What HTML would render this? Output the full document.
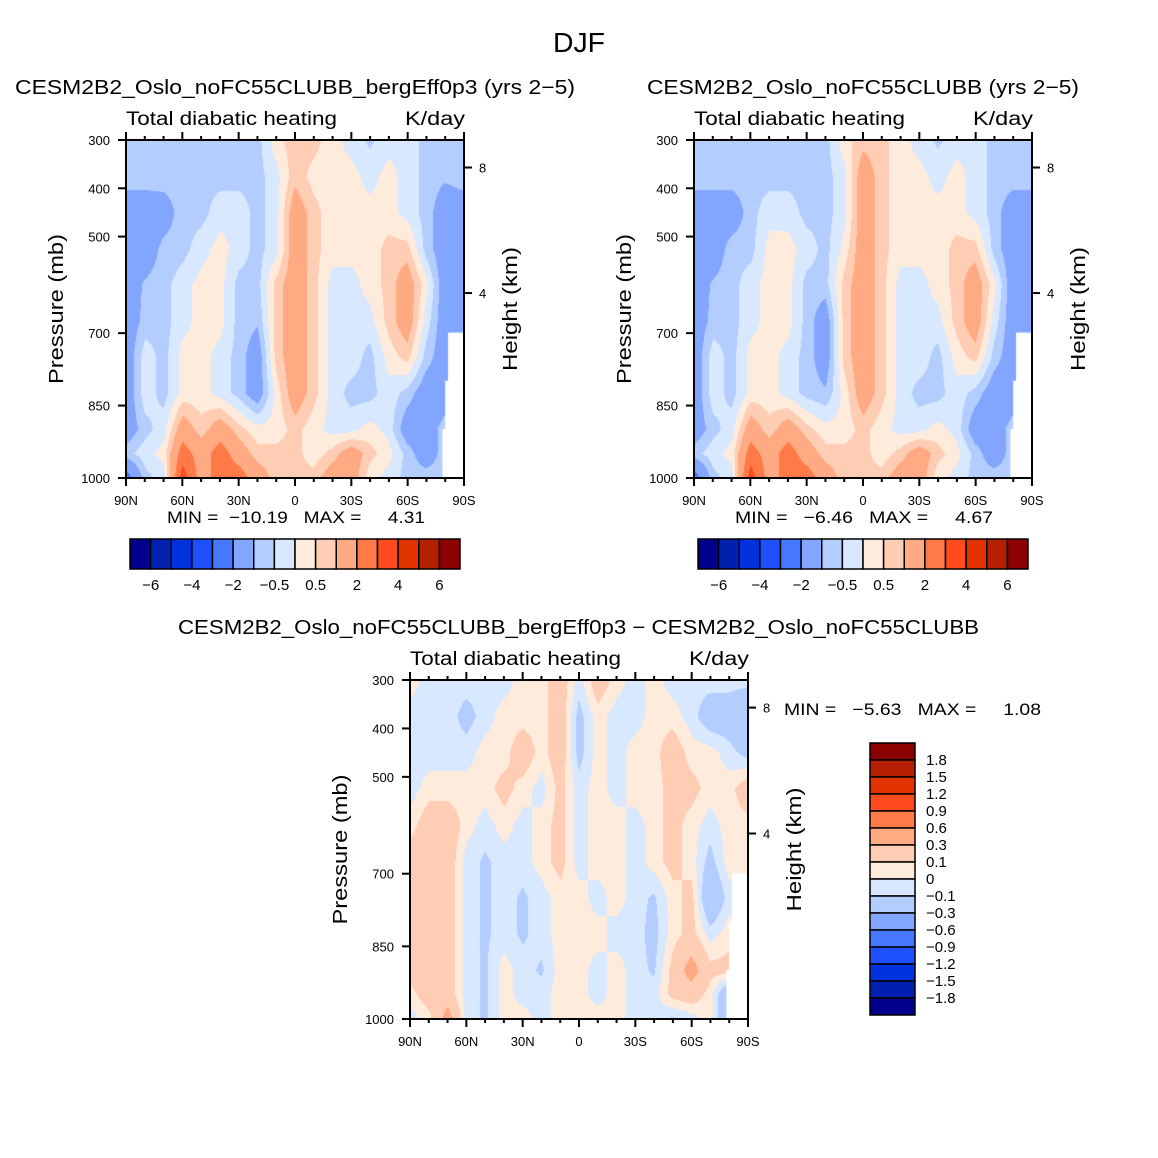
<!DOCTYPE html>
<html><head><meta charset="utf-8">
<style>
html,body{margin:0;padding:0;background:#fff;}
#root{position:relative;width:1158px;height:1158px;overflow:hidden;background:#fff;}
canvas{position:absolute;}
svg{position:absolute;left:0;top:0;}
text{font-family:"Liberation Sans",sans-serif;fill:#000;white-space:pre;}
</style></head>
<body>
<div id="root">
<canvas id="c1" width="338" height="338" style="left:126px;top:140px"></canvas>
<canvas id="c2" width="338" height="338" style="left:694px;top:140px"></canvas>
<canvas id="c3" width="338" height="339" style="left:410px;top:680px"></canvas>
<svg id="ov" width="1158" height="1158"></svg>
</div>
<script>
// ---- data ----
const lats = [90,80,70,60,50,40,30,20,10,0,-10,-20,-30,-40,-50,-60,-70,-80,-90];
const plevs = [300,375,450,525,600,675,750,825,900,950,1000];
const levelsAbs = [-6,-5,-4,-3,-2,-1,-0.5,0,0.5,1,2,3,4,5,6];
const levelsDiff = [-1.8,-1.5,-1.2,-0.9,-0.6,-0.3,-0.1,0,0.1,0.3,0.6,0.9,1.2,1.5,1.8];
const absTickLabels = ["-6","-4","-2","-0.5","0.5","2","4","6"];
const diffTickLabels = ["1.8","1.5","1.2","0.9","0.6","0.3","0.1","0","-0.1","-0.3","-0.6","-0.9","-1.2","-1.5","-1.8"];
const heatBerg = [
[-0.7,-0.7,-0.7,-0.7,-0.7,-0.7,-0.7,-0.7,0.3,0.8,0.7,0.2,-0.2,-0.6,-0.2,-0.2,-0.7,-0.7,-0.7],
[-0.7,-0.7,-0.7,-0.7,-0.7,-0.7,-0.7,-0.7,-0.2,0.8,0.3,0.2,0.2,-0.2,0.2,-0.2,-0.7,-0.9,-0.7],
[-1.5,-1.5,-1.4,-0.7,-0.7,-0.2,-0.2,-0.7,-0.2,1.5,0.7,0.2,0.2,0.2,0.2,-0.2,-0.7,-1.5,-1.5],
[-1.5,-1.5,-0.8,-0.7,-0.2,0.2,-0.2,-0.7,-0.2,1.5,0.7,0.2,0.2,0.2,0.7,0.7,-0.7,-1.5,-1.5],
[-1.5,-0.9,-0.7,-0.2,0.2,0.2,-0.7,-0.7,0.7,1.5,0.7,-0.2,-0.2,0.2,0.7,1.5,0.2,-1.5,-1.5],
[-1.5,-0.8,-0.7,-0.2,0.2,0.2,-0.7,-0.9,0.7,1.5,0.7,-0.2,-0.2,-0.2,0.7,1.5,-0.2,-1.5,-1.5],
[-1.5,-0.2,-0.7,0.2,0.2,-0.2,-0.7,-1.5,0.7,1.5,0.7,-0.2,-0.2,-0.7,0.2,0.7,-0.7,-1.5,-1.5],
[-1.5,-0.2,-0.7,0.2,0.2,-0.2,-0.7,-1.5,0.2,1.5,0.7,-0.2,-0.7,-0.7,-0.2,-0.7,-1.5,-1.5,-1.5],
[-1.5,-0.7,-0.2,1.5,0.7,1.5,0.7,0.2,0.2,0.7,0.2,-0.2,-0.2,0.2,-0.2,-1.5,-1.5,-0.7,-0.7],
[-0.7,-0.2,0.2,2.5,1.5,2.5,1.5,0.7,0.7,0.7,0.2,0.7,1.5,0.7,0.2,-0.7,-1.5,-0.7,-0.7],
[-2.5,-0.7,-0.2,3.5,1.5,2.5,2.5,1.5,0.7,0.7,0.7,1.5,1.5,0.2,-0.2,-0.7,-0.7,-0.7,-0.7]
];
const heatCtrl = [
[-0.7,-0.7,-0.7,-0.7,-0.7,-0.7,-0.7,-0.7,0.3,0.8,0.7,0.2,-0.2,-0.6,-0.2,-0.2,-0.7,-0.7,-0.7],
[-0.7,-0.7,-0.7,-0.7,-0.7,-0.7,-0.7,-0.7,-0.2,1.5,0.7,0.2,0.2,-0.2,0.2,-0.2,-0.7,-0.7,-0.7],
[-1.5,-1.5,-1.5,-0.7,-0.2,-0.2,-0.7,-0.7,-0.2,1.5,0.7,0.2,0.2,0.2,0.2,-0.2,-0.7,-1.5,-1.5],
[-1.5,-1.5,-0.7,-0.7,0.2,0.2,-0.2,-0.7,0.2,1.5,0.7,0.2,0.2,0.2,0.7,0.7,-0.7,-1.5,-1.5],
[-1.5,-0.9,-0.7,-0.2,0.2,0.2,-0.7,-0.7,0.7,1.5,0.7,-0.2,-0.2,0.2,0.7,1.5,0.2,-1.5,-1.5],
[-1.5,-0.8,-0.7,-0.2,0.2,0.2,-0.7,-1.5,0.7,1.5,0.7,-0.2,-0.2,-0.2,0.7,1.5,-0.2,-1.5,-1.5],
[-1.5,-0.2,-0.7,0.2,0.2,-0.2,-0.7,-1.5,0.7,1.5,0.7,-0.2,-0.2,-0.7,0.2,0.7,-0.7,-1.5,-1.5],
[-1.5,-0.2,-0.7,0.2,0.2,-0.2,-0.7,-0.9,0.2,1.5,0.7,-0.2,-0.7,-0.7,-0.2,-0.7,-1.5,-1.5,-1.5],
[-1.5,-0.7,-0.2,1.5,0.7,1.5,0.7,0.2,0.2,0.7,0.2,-0.2,-0.2,0.2,-0.2,-1.5,-1.5,-0.7,-0.7],
[-0.7,-0.2,0.2,2.5,1.5,2.5,1.5,0.7,0.7,0.7,0.2,0.7,1.5,0.7,0.2,-0.7,-1.5,-0.7,-0.7],
[-2.5,-0.7,-0.2,3.5,1.5,2.5,2.5,1.5,0.7,0.7,0.7,1.5,1.5,0.2,-0.2,-0.7,-0.7,-0.7,-0.7]
];
const heatDiff = [
[0.05,-0.05,-0.05,-0.05,-0.05,-0.05,0.05,0.05,0.2,-0.05,0.2,0.05,-0.05,0.05,-0.05,-0.05,-0.05,-0.05,-0.05],
[-0.05,-0.05,-0.05,-0.15,-0.05,0.05,0.05,0.05,0.2,-0.15,0.05,-0.05,-0.05,0.05,0.05,-0.05,-0.2,-0.2,-0.3],
[-0.05,-0.05,-0.05,-0.05,0.05,0.05,0.2,0.05,0.2,-0.15,0.05,-0.05,0.05,0.05,0.2,0.05,0.05,-0.05,-0.15],
[-0.05,0.05,0.05,0.05,0.05,0.15,0.05,-0.05,0.15,-0.05,0.05,-0.05,0.05,0.05,0.15,0.15,0.05,0.05,0.2],
[0.05,0.2,0.2,0.05,-0.05,0.05,-0.05,0.05,0.15,-0.05,0.05,0.05,-0.05,0.05,0.15,0.05,-0.05,0.05,0.05],
[0.2,0.2,0.2,-0.05,-0.12,-0.05,-0.05,0.05,0.15,-0.05,0.05,0.05,-0.05,0.05,0.15,0.05,-0.15,0.05,0.05],
[0.2,0.2,0.2,-0.05,-0.12,-0.05,-0.12,-0.05,0.05,0.05,-0.05,0.05,-0.05,-0.12,0.05,0.15,-0.3,-0.05,-0.05],
[0.2,0.2,0.2,-0.05,-0.12,-0.05,-0.12,-0.05,0.05,0.05,0.05,-0.05,-0.05,-0.15,0.05,0.15,-0.05,0.05,0.05],
[0.2,0.2,0.2,-0.05,-0.12,0.05,-0.05,-0.12,0.05,0.05,-0.05,0.05,-0.05,-0.12,0.15,0.4,0.15,0.15,0.15],
[0.05,0.2,0.2,-0.05,-0.12,0.05,-0.05,-0.05,0.05,0.05,-0.05,0.05,-0.05,-0.05,0.15,0.2,0.05,-0.3,-0.3],
[-0.05,0.05,0.4,-0.05,-0.12,0.05,0.05,-0.05,0.05,0.05,0.05,0.05,-0.05,-0.05,-0.12,-0.05,0.05,-0.3,-0.3]
];
const xTickLabels = ["90N","60N","30N","0","30S","60S","90S"];
const xTickLats = [90,60,30,0,-30,-60,-90];
const pTickVals = [300,400,500,700,850,1000];
const hTickVals = [8,4];
const hTickP = [357,617];

const colors = ["#00008C","#0020B0","#0033DD","#1E50FF","#4679FF","#82A5FF","#B4CDFF","#D7E8FF","#FFEBDC","#FFCDB4","#FFAA82","#FF7A46","#FF4B1E","#E13200","#B42000","#8C0000"];

function hex(c){return [parseInt(c.substr(1,2),16),parseInt(c.substr(3,2),16),parseInt(c.substr(5,2),16)];}
const rgb = colors.map(hex);
function cls(v,levels){let i=0;while(i<levels.length&&v>=levels[i])i++;return i;}

function drawPanel(id,grid,levels){
  const cv=document.getElementById(id), ctx=cv.getContext('2d');
  const W=cv.width,H=cv.height, img=ctx.createImageData(W,H);
  const xS = lat => (90-lat)/180*(W-1);
  const yS = p => (p-300)/700*(H-1);
  for(let py=0;py<H;py++){
    const p=300+py/(H-1)*700;
    let r=0;while(r<plevs.length-2&&p>plevs[r+1])r++;
    const t=(p-plevs[r])/(plevs[r+1]-plevs[r]);
    for(let px=0;px<W;px++){
      const lat=90-px/(W-1)*180;
      let c=0;while(c<lats.length-2&&lat<lats[c+1])c++;
      const s=(lats[c]-lat)/(lats[c]-lats[c+1]);
      const v=(1-t)*((1-s)*grid[r][c]+s*grid[r][c+1])+t*((1-s)*grid[r+1][c]+s*grid[r+1][c+1]);
      const col=rgb[cls(v,levels)], k=(py*W+px)*4;
      img.data[k]=col[0];img.data[k+1]=col[1];img.data[k+2]=col[2];img.data[k+3]=255;
    }
  }
  ctx.putImageData(img,0,0);
  ctx.fillStyle="#fff";
  ctx.fillRect(xS(-82),yS(700),W,H);
  ctx.fillRect(xS(-80.5),yS(800),W,H);
  ctx.fillRect(xS(-79),yS(900),W,H);
}
drawPanel('c1',heatBerg,levelsAbs);
drawPanel('c2',heatCtrl,levelsAbs);
drawPanel('c3',heatDiff,levelsDiff);

const NS="http://www.w3.org/2000/svg", svg=document.getElementById('ov');
function el(tag,attrs,txt){const e=document.createElementNS(NS,tag);for(const k in attrs)e.setAttribute(k,attrs[k]);if(txt!==undefined)e.textContent=txt;svg.appendChild(e);return e;}
function txt(x,y,s,size,anchor,len,name){
  const t=el('text',{x:x,y:y,'font-size':size,'text-anchor':anchor||'start'},s);
  if(len){t.setAttribute('textLength',len);t.setAttribute('lengthAdjust','spacingAndGlyphs');}
  
  
  return t;
}
function axes(x0,y0,w,h,pfx){
  const xs=lat=>x0+(90-lat)/180*w, ys=p=>y0+(p-300)/700*h;
  const fr=el('rect',{x:x0,y:y0,width:w,height:h,fill:'none',stroke:'#000','stroke-width':2});
  
  
  for(let lat=90;lat>=-90;lat-=10){
    const major=lat%30===0, L=major?8:4, x=xs(lat);
    el('line',{x1:x,y1:y0+h,x2:x,y2:y0+h+L,stroke:'#000','stroke-width':2});
    el('line',{x1:x,y1:y0,x2:x,y2:y0-L,stroke:'#000','stroke-width':2});
  }
  xTickLabels.forEach((s,i)=>txt(xs(xTickLats[i]),y0+h+27,s,13,'middle',null,pfx+'-x-tick-label'));
  pTickVals.forEach(p=>{el('line',{x1:x0-8,y1:ys(p),x2:x0,y2:ys(p),stroke:'#000','stroke-width':2});
    txt(x0-16,ys(p)+5,String(p),13,'end',null,pfx+'-y-tick-label');});
  hTickVals.forEach((hv,i)=>{const y=ys(hTickP[i]);el('line',{x1:x0+w,y1:y,x2:x0+w+8,y2:y,stroke:'#000','stroke-width':2});
    txt(x0+w+15,y+5,String(hv),13,'start',null,pfx+'-height-tick-label');});
  txt(x0,y0-15,'Total diabatic heating',19,'start',211,pfx+'-subtitle');
  txt(x0+w+1,y0-15,'K/day',19,'end',60,pfx+'-units');
  const yl=txt(0,0,'Pressure (mb)',20,'middle',150,pfx+'-y-axis-title');
  yl.setAttribute('transform',`translate(${x0-63},${y0+h/2}) rotate(-90)`);
  const hl=txt(0,0,'Height (km)',20,'middle',124,pfx+'-right-axis-title');
  hl.setAttribute('transform',`translate(${x0+w+53},${y0+h/2}) rotate(-90)`);
}
txt(579,52,'DJF',28,'middle',52,'figure-title');
txt(15,94,'CESM2B2_Oslo_noFC55CLUBB_bergEff0p3 (yrs 2\u22125)',20,'start',560,'panel1-title');
txt(647,94,'CESM2B2_Oslo_noFC55CLUBB (yrs 2\u22125)',20,'start',432,'panel2-title');
txt(178,634,'CESM2B2_Oslo_noFC55CLUBB_bergEff0p3 \u2212 CESM2B2_Oslo_noFC55CLUBB',20,'start',801,'panel3-title');
axes(126,140,338,338,'panel1');
axes(694,140,338,338,'panel2');
axes(410,680,338,339,'panel3');
txt(167,523,'MIN =  \u221210.19   MAX =     4.31',17,'start',258,'panel1-min-max');
txt(735,523,'MIN =   \u22126.46   MAX =     4.67',17,'start',258,'panel2-min-max');
txt(784,715,'MIN =   \u22125.63   MAX =     1.08',17,'start',257,'panel3-min-max');

function hbar(x0,pfx){
  const bw=330/16;
  colors.forEach((c,i)=>{const r=el('rect',{x:x0+i*bw,y:539,width:bw,height:30,fill:c,stroke:'#000','stroke-width':1.5});
    
    });
  absTickLabels.forEach((s,i)=>txt(x0+(1+2*i)*bw,590,s.replace('-','\u2212'),15,'middle',null,pfx+'-colorbar-label'));
}
hbar(130,'panel1');
hbar(698,'panel2');
const vb=17;
colors.slice().reverse().forEach((c,i)=>{const r=el('rect',{x:870,y:743+i*vb,width:45,height:vb,fill:c,stroke:'#000','stroke-width':1.5});
  
  });
diffTickLabels.forEach((s,i)=>txt(926,743+(i+1)*vb+5,s.replace('-','\u2212'),15,'start',null,'diff-colorbar-label'));
</script>
</body></html>
